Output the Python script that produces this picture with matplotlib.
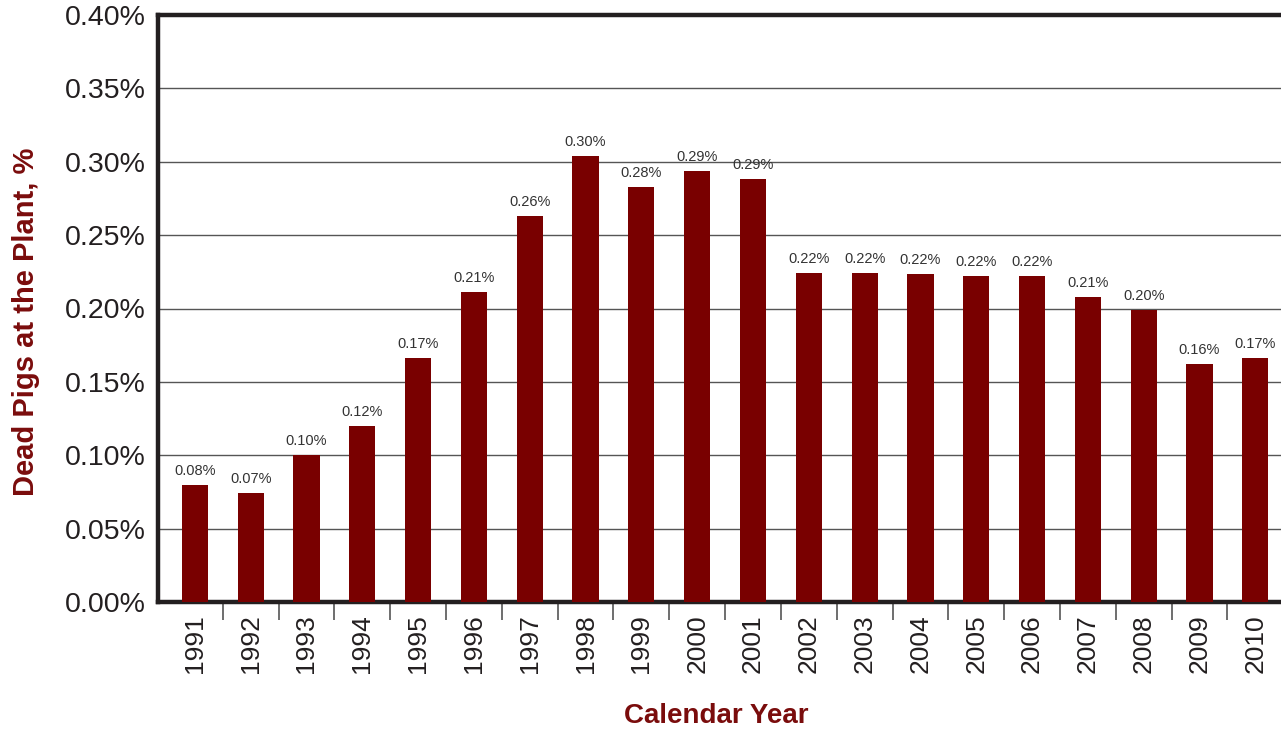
import matplotlib
matplotlib.use("Agg")
import matplotlib.pyplot as plt
from matplotlib.ticker import FuncFormatter, FixedLocator
from matplotlib import font_manager

years = ["1991", "1992", "1993", "1994", "1995", "1996", "1997", "1998", "1999", "2000",
         "2001", "2002", "2003", "2004", "2005", "2006", "2007", "2008", "2009", "2010"]
dead_pct = [0.080, 0.074, 0.100, 0.120, 0.166, 0.211, 0.263, 0.304, 0.283, 0.294,
            0.288, 0.224, 0.224, 0.2235, 0.222, 0.222, 0.208, 0.199, 0.162, 0.166]
y_ticks = [0.00, 0.05, 0.10, 0.15, 0.20, 0.25, 0.30, 0.35, 0.40]

names = {f.name for f in font_manager.fontManager.ttflist}
base_font = "Liberation Sans" if "Liberation Sans" in names else "DejaVu Sans"
title_font = "Liberation Sans Narrow" if "Liberation Sans Narrow" in names else base_font
plt.rcParams["font.family"] = [base_font, "DejaVu Sans"]

dark = "#231f20"
bar_color = "#790000"
label_red = "#7a0c0c"

fig = plt.figure(figsize=(12.81, 7.36), dpi=100)
ax = fig.add_axes([158 / 1281, 1 - 602 / 736, 1 - 158 / 1281, (602 - 15) / 736])

x = list(range(len(years)))
ax.bar(x, dead_pct, width=0.47, color=bar_color, zorder=3)

for xi, v in zip(x, dead_pct):
    ax.annotate(f"{v:.2f}%", (xi, v), xytext=(0, 5), textcoords="offset points",
                ha="center", va="bottom", fontsize=10.5, color="#333333", zorder=4)

ax.set_ylim(0, 0.40)
ax.set_xlim(-0.66, 19.46)
ax.yaxis.set_major_locator(FixedLocator(y_ticks))
ax.yaxis.set_major_formatter(FuncFormatter(lambda v, p: f"{v:.2f}%"))
ax.tick_params(axis="y", length=0, labelsize=20.5, labelcolor=dark, pad=9)
ax.grid(axis="y", color="#555555", linewidth=1.0, zorder=0)

ax.set_xticks(x)
ax.set_xticklabels(years, rotation=90, fontsize=19, color=dark)
ax.tick_params(axis="x", length=0, pad=9)
ax.set_xticks([i + 0.5 for i in x[:-1]], minor=True)
ax.tick_params(axis="x", which="minor", length=13, width=1.2, color="#555555", direction="out")

for side in ("left", "top", "bottom"):
    ax.spines[side].set_linewidth(3.2)
    ax.spines[side].set_color(dark)
ax.spines["right"].set_visible(False)

fig.text(26 / 1281, 1 - 322 / 736, "Dead Pigs at the Plant, %", rotation=90,
         ha="center", va="center", fontsize=21, fontweight="bold",
         color=label_red, family=[title_font, "DejaVu Sans"])
fig.text(716 / 1281, 1 - 716 / 736, "Calendar Year", ha="center", va="center",
         fontsize=20, fontweight="bold", color=label_red, family=[title_font, "DejaVu Sans"])

fig.savefig("out.png", dpi=100)
